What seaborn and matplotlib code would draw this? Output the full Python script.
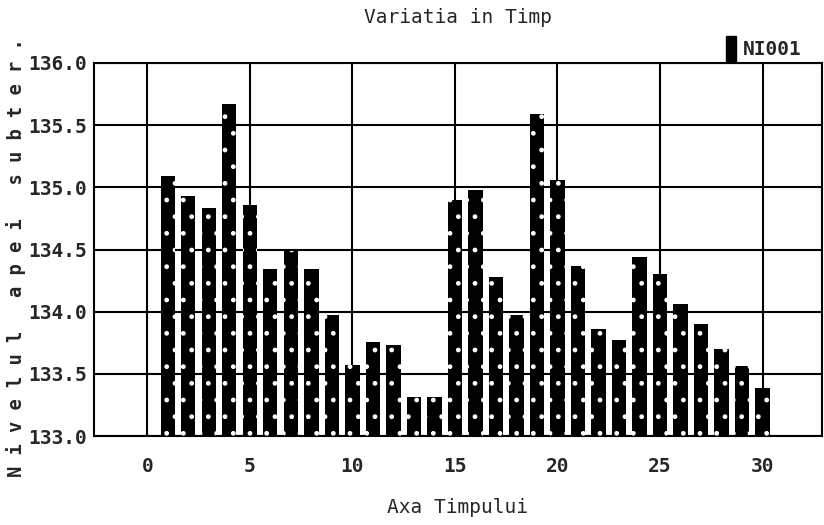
"""Bar chart of groundwater level over time (NI001)."""
import matplotlib
matplotlib.use('Agg')
import matplotlib.pyplot as plt
from matplotlib.patches import Patch
import seaborn as sns

# %%
# values
days = list(range(1, 31))
levels = [135.09, 134.93, 134.83, 135.67, 134.86, 134.34, 134.49, 134.34, 133.97, 133.57,
          133.76, 133.73, 133.31, 133.31, 134.90, 134.98, 134.28, 133.97, 135.59, 135.06,
          134.37, 133.86, 133.77, 134.44, 134.30, 134.06, 133.90, 133.70, 133.56, 133.39]
series_name = 'NI001'
y_ticks = [133.0, 133.5, 134.0, 134.5, 135.0, 135.5, 136.0]
x_ticks = [0, 5, 10, 15, 20, 25, 30]

# %%
sns.set_style('white')
plt.rcParams['font.family'] = ['DejaVu Sans Mono', 'DejaVu Sans']
plt.rcParams['hatch.linewidth'] = 1.0

fig = plt.figure(figsize=(8.24, 5.25), dpi=100)
ax = fig.add_axes([0.114, 0.1695, 0.8836, 0.7105])

sns.barplot(x=days, y=levels, color='black', native_scale=True, width=0.7,
            saturation=1, ax=ax, zorder=3)

# white speckle inside the black bars
for bar in ax.patches:
    bar.set_facecolor('black')
    bar.set_edgecolor('white')
    bar.set_linewidth(0)
    bar.set_hatch('.')

ax.set_xlim(-2.6, 32.9)
ax.set_ylim(133.0, 136.0)
ax.set_xticks(x_ticks)
ax.set_xticklabels([str(t) for t in x_ticks], weight='bold')
ax.set_yticks(y_ticks)
ax.set_yticklabels(['%.1f' % t for t in y_ticks], weight='bold')

ax.grid(True, color='black', linewidth=1.5, zorder=0)
ax.set_axisbelow(True)
for side in ['top', 'right', 'left', 'bottom']:
    ax.spines[side].set_visible(True)
    ax.spines[side].set_color('black')
    ax.spines[side].set_linewidth(1.5)

ax.tick_params(axis='y', direction='out', length=4, width=1.5, color='black',
               pad=1, labelsize=14)
ax.tick_params(axis='x', direction='out', length=8, width=1.5, color='black',
               pad=7, labelsize=14)

ax.set_xlabel('Axa Timpului', fontsize=14, labelpad=16)
ax.set_ylabel('')
ax.set_title('Variatia in Timp', fontsize=14, pad=29)

fig.text(0.02, 0.51, 'N i v e l u l   a p e i   s u b t e r .', rotation=90,
         ha='center', va='center', fontsize=13.5, weight='bold')

handle = Patch(facecolor='black', edgecolor='black')
ax.legend([handle], [series_name], loc='lower right', bbox_to_anchor=(0.978, 0.995),
          frameon=False, fontsize=14, handlelength=0.5, handleheight=1.6,
          handletextpad=0.4, borderpad=0.1, borderaxespad=0.1,
          prop={'weight': 'bold', 'size': 14})

plt.savefig('out.png', dpi=100)
